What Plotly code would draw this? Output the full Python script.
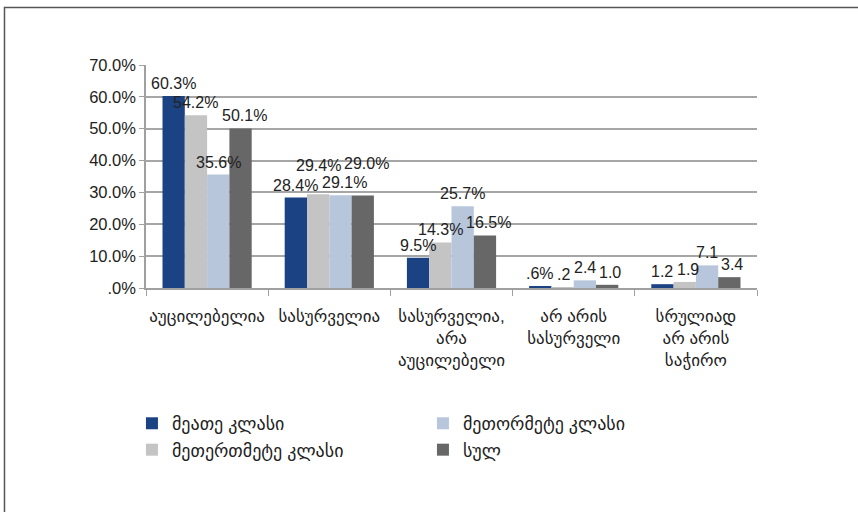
import plotly.graph_objects as go

categories = ["აუცილებელია", "სასურველია", "სასურველია,<br>არა<br>აუცილებელი",
              "არ არის<br>სასურველი", "სრულიად<br>არ არის<br>საჭირო"]
series_names = ["მეათე კლასი", "მეთერთმეტე კლასი", "მეთორმეტე კლასი", "სულ"]
grade10 = [60.3, 28.4, 9.5, 0.6, 1.2]
grade11 = [54.2, 29.4, 14.3, 0.2, 1.9]
grade12 = [35.6, 29.1, 25.7, 2.4, 7.1]
total = [50.1, 29.0, 16.5, 1.0, 3.4]
labels10 = ["60.3%", "28.4%", "9.5%", ".6%", "1.2"]
labels11 = ["54.2%", "29.4%", "14.3%", ".2", "1.9"]
labels12 = ["35.6%", "29.1%", "25.7%", "2.4", "7.1"]
labels_total = ["50.1%", "29.0%", "16.5%", "1.0", "3.4"]
ytick_vals = [0, 10, 20, 30, 40, 50, 60, 70]
ytick_text = [".0%", "10.0%", "20.0%", "30.0%", "40.0%", "50.0%", "60.0%", "70.0%"]

colors = ["#1b4283", "#c4c4c4", "#b8c6dc", "#676767"]
ranks = [1, 3, 2, 4]
values = [grade10, grade11, grade12, total]
texts = [labels10, labels11, labels12, labels_total]

FONT = "Liberation Sans, Arial, DejaVu Sans, sans-serif"
W, H = 858, 512
ML, MR, MT, MB = 146, 101, 65, 224
YMAX = 70
BARGAP = 0.27
LABEL_SIZE = 16

fig = go.Figure()
for name, vals, col, rk in zip(series_names, values, colors, ranks):
    fig.add_trace(go.Bar(
        x=categories, y=vals, name=name, marker_color=col, marker_line_width=0,
        legendrank=rk,
    ))

# data labels as annotations; on collision nudge right a little, else lift
plot_w = W - ML - MR
plot_h = H - MT - MB
cat_w = plot_w / len(categories)
bar_w = cat_w * (1 - BARGAP) / len(values)
px_per_unit = plot_h / YMAX
char_w = {"%": 0.889, ".": 0.278}
text_h = LABEL_SIZE * 0.95
PAD = 1.5
LIFT_GAP = 4
MAXSHIFT = 12
EPS = 0.05


def text_width(s):
    return sum(char_w.get(c, 0.556) for c in s) * LABEL_SIZE + 2 * PAD


def collisions(x0, x1, b, boxes):
    t = b + text_h
    return [bx for bx in boxes
            if x0 < bx[1] - EPS and x1 > bx[0] + EPS and b < bx[3] - EPS and t > bx[2] + EPS]


annotations = []
for ci, cat in enumerate(categories):
    boxes = []
    for si in range(len(values)):
        v = values[si][ci]
        t = texts[si][ci]
        xs = (si - (len(values) - 1) / 2) * bar_w
        tw = text_width(t)
        bottom = v * px_per_unit + 2
        dx = 0.0
        while True:
            hits = collisions(xs - tw / 2, xs + tw / 2, bottom, boxes)
            if not hits:
                break
            need = max(h[1] for h in hits) - (xs - tw / 2) + 2 * EPS
            if need <= MAXSHIFT:
                trial = xs + need
                if not collisions(trial - tw / 2, trial + tw / 2, bottom, boxes):
                    dx = need
                    break
            bottom = max(h[3] for h in hits) + LIFT_GAP
        cx = xs + dx
        boxes.append((cx - tw / 2, cx + tw / 2, bottom, bottom + text_h))
        annotations.append(dict(
            x=cat, y=v, xref="x", yref="y", text=t, showarrow=False,
            xshift=cx, yshift=bottom - v * px_per_unit, yanchor="bottom",
            font=dict(size=LABEL_SIZE, color="#222222", family=FONT),
        ))

fig.update_layout(
    width=W, height=H,
    margin=dict(l=ML, r=MR, t=MT, b=MB),
    paper_bgcolor="white", plot_bgcolor="white",
    barmode="group", bargap=BARGAP, bargroupgap=0,
    font=dict(family=FONT, size=15, color="#222222"),
    showlegend=True,
    legend=dict(orientation="h", x=-0.023, y=-0.525, xanchor="left", yanchor="top",
                entrywidth=246, entrywidthmode="pixels",
                font=dict(size=18, family=FONT), itemwidth=30,
                tracegroupgap=0),
    annotations=annotations,
)
fig.update_xaxes(
    showline=True, linecolor="#a0a0a0", linewidth=1.5,
    ticks="outside", tickson="boundaries", ticklen=6, tickcolor="#a0a0a0",
    tickfont=dict(size=17, family=FONT), showgrid=False, ticklabelstandoff=12,
    tickangle=0,
)
fig.update_yaxes(
    range=[0, YMAX], tickvals=ytick_vals, ticktext=ytick_text,
    showgrid=True, gridcolor="#a6a6a6", gridwidth=1.5,
    showline=True, linecolor="#a0a0a0", linewidth=1.5,
    ticks="outside", ticklen=5, tickcolor="#a0a0a0",
    tickfont=dict(size=16.5, family=FONT), zeroline=False,
)
fig.add_shape(type="rect", xref="paper", yref="paper",
              x0=-0.2316, x1=1.2, y0=-1.1, y1=1.258,
              line=dict(color="#555555", width=1.5), fillcolor="rgba(0,0,0,0)")
fig.write_html("out.html", config={"displayModeBar": False},
               post_script="document.body.style.margin='0px';")
